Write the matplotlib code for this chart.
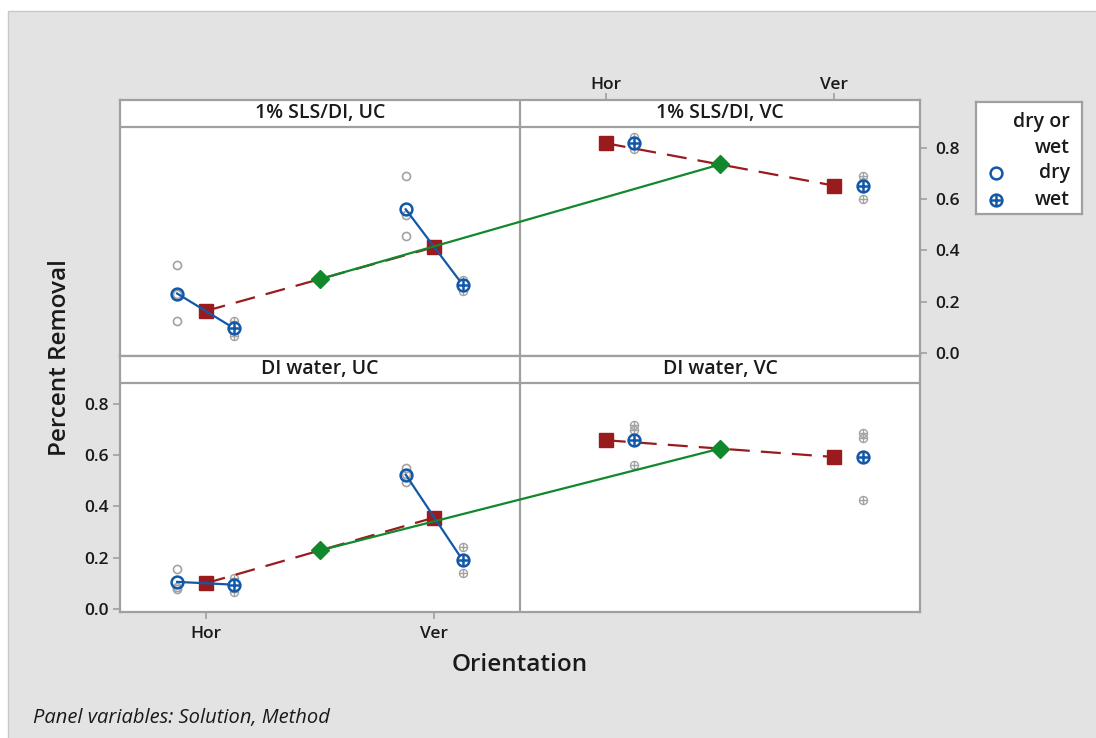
import matplotlib.pyplot as plt
import numpy as np
from matplotlib.patches import Rectangle

plt.rcParams['font.family'] = ['Open Sans', 'DejaVu Sans']

# percent removal per replicate: solution / method / orientation / dry or wet
sls_uc_hor_dry = [0.343, 0.228, 0.123]
sls_uc_hor_wet = [0.126, 0.093, 0.067]
sls_uc_ver_dry = [0.688, 0.536, 0.454]
sls_uc_ver_wet = [0.284, 0.268, 0.242]
sls_vc_hor_wet = [0.842, 0.812, 0.796]
sls_vc_ver_wet = [0.690, 0.665, 0.599]

di_uc_hor_dry = [0.155, 0.085, 0.076]
di_uc_hor_wet = [0.121, 0.095, 0.067]
di_uc_ver_dry = [0.550, 0.524, 0.495]
di_uc_ver_wet = [0.243, 0.185, 0.138]
di_vc_hor_wet = [0.715, 0.697, 0.559]
di_vc_ver_wet = [0.685, 0.665, 0.425]

orientations = ["Hor", "Ver"]
methods = ["UC", "VC"]
solutions = ["1% SLS/DI", "DI water"]

rows = [
    {"UC": {"Hor": {"dry": sls_uc_hor_dry, "wet": sls_uc_hor_wet},
            "Ver": {"dry": sls_uc_ver_dry, "wet": sls_uc_ver_wet}},
     "VC": {"Hor": {"wet": sls_vc_hor_wet},
            "Ver": {"wet": sls_vc_ver_wet}}},
    {"UC": {"Hor": {"dry": di_uc_hor_dry, "wet": di_uc_hor_wet},
            "Ver": {"dry": di_uc_ver_dry, "wet": di_uc_ver_wet}},
     "VC": {"Hor": {"wet": di_vc_hor_wet},
            "Ver": {"wet": di_vc_ver_wet}}},
]

BLUE = '#1158A8'
RED = '#9A1B1E'
GREEN = '#12882C'
GREY = '#A3A3A3'
FRAME = '#A0A0A0'
INK = '#1A1A1A'

W, H = 1096, 738
fig = plt.figure(figsize=(W / 100, H / 100), dpi=100)
fig.patch.set_facecolor('white')
fig.patches.append(Rectangle((8 / W, -0.01), 1.0, (H - 11) / H + 0.01,
                             transform=fig.transFigure, facecolor='#E3E3E3',
                             edgecolor='#C8C8C8', lw=1, zorder=-10))

panel_w = 1.75
x0 = 0.625
ymin, ytop = -0.012, 0.88
ystrip = 0.985
offs = {"dry": -0.125, "wet": 0.125}


def px_box(left, top, right, bottom):
    return [left / W, 1 - bottom / H, (right - left) / W, (bottom - top) / H]


def draw_pm(ax, x, y, ms, color, lw, z):
    ax.plot(x, y, 'o', ms=ms, mfc='none', mec=color, mew=lw, zorder=z)
    ax.plot(x, y, '+', ms=ms, mec=color, mew=lw, zorder=z)


row_boxes = [px_box(120, 100, 920, 356), px_box(120, 356, 920, 612)]
for r, (data, box) in enumerate(zip(rows, row_boxes)):
    ax = fig.add_axes(box)
    ax.set_xlim(x0, x0 + 2 * panel_w)
    ax.set_ylim(ymin, ystrip)
    ax.set_facecolor('white')
    for s in ax.spines.values():
        s.set_color(FRAME)
        s.set_linewidth(1.6)
    ax.axhline(ytop, color=FRAME, lw=1.6, zorder=1)
    ax.axvline(x0 + panel_w, color=FRAME, lw=1.6, zorder=1)

    diam_x, diam_y = [], []
    for m, meth in enumerate(methods):
        base = m * panel_w
        ax.text(base + 1.5, (ytop + ystrip) / 2, f"{solutions[r]}, {meth}",
                ha='center', va='center', fontsize=14, fontweight='semibold',
                color=INK)
        sq_x, sq_y = [], []
        for o, ori in enumerate(orientations):
            xc = base + 1 + o
            cell = data[meth][ori]
            mx, my = [], []
            for kind, vals in cell.items():
                xs = np.full(len(vals), xc + offs[kind])
                if kind == "dry":
                    ax.plot(xs, vals, 'o', ms=5.8, mfc='none', mec=GREY,
                            mew=1.2, zorder=2)
                else:
                    draw_pm(ax, xs, vals, 5.8, GREY, 1.0, 2)
                mx.append(xc + offs[kind])
                my.append(np.mean(vals))
            sq_x.append(xc)
            sq_y.append(np.mean(my))
            ax.plot(mx, my, '-', color=BLUE, lw=1.6, zorder=5)
            for kx, ky, kind in zip(mx, my, cell.keys()):
                if kind == "dry":
                    ax.plot(kx, ky, 'o', ms=8.5, mfc='none', mec=BLUE,
                            mew=1.8, zorder=6)
                else:
                    ax.plot(kx, ky, 'o', ms=8.5, mfc='white', mec=BLUE,
                            mew=1.8, zorder=6)
                    ax.plot(kx, ky, '+', ms=8.5, mec=BLUE, mew=1.8, zorder=6)
        ax.plot(sq_x, sq_y, '-', color=RED, lw=1.6, dashes=(9, 5), zorder=3)
        ax.plot(sq_x, sq_y, 's', ms=9.5, color=RED, mec=RED, zorder=4)
        diam_x.append(base + 1.5)
        diam_y.append(np.mean(sq_y))
    ax.plot(diam_x, diam_y, '-', color=GREEN, lw=1.6, zorder=7)
    ax.plot(diam_x, diam_y, 'D', ms=9.5, color=GREEN, mec=GREEN, zorder=8)

    yt = [0.0, 0.2, 0.4, 0.6, 0.8]
    ax.set_yticks(yt, [f"{v:.1f}" for v in yt])
    ax.tick_params(colors=FRAME, labelcolor=INK, labelsize=12.5, length=5,
                   width=1.2, direction='out', pad=3)
    if r == 0:
        ax.yaxis.tick_right()
        ax.xaxis.tick_top()
        ax.set_xticks([panel_w + 1, panel_w + 2], orientations)
        ax.tick_params(axis='y', pad=6)
        ax.tick_params(axis='x', pad=0)
    else:
        ax.set_xticks([1, 2], orientations)
        ax.tick_params(axis='x', pad=5)
    for lab in ax.get_yticklabels() + ax.get_xticklabels():
        lab.set_fontweight('semibold')

fig.text(60 / W, 1 - 358 / H, "Percent Removal", rotation=90, ha='center',
         va='center', fontsize=17.5, fontweight='semibold', color=INK)
fig.text(520 / W, 1 - 665 / H, "Orientation", ha='center', va='center',
         fontsize=17.5, fontweight='semibold', color=INK)
fig.text(33 / W, 1 - 718 / H, "Panel variables: Solution, Method",
         ha='left', va='center', fontsize=14.5, style='italic', color=INK)

# legend box
lg = fig.add_axes(px_box(976, 102, 1082, 214))
lg.set_xlim(0, 106)
lg.set_ylim(112, 0)
lg.set_xticks([])
lg.set_yticks([])
lg.set_facecolor('white')
for s in lg.spines.values():
    s.set_color(FRAME)
    s.set_linewidth(1.6)
for txt, yy in [("dry or", 20), ("wet", 46), ("dry", 71), ("wet", 98)]:
    lg.text(94, yy, txt, ha='right', va='center', fontsize=14,
            fontweight='semibold', color=INK)
lg.plot(20, 71, 'o', ms=8.5, mfc='none', mec=BLUE, mew=1.8)
lg.plot(20, 98, 'o', ms=8.5, mfc='none', mec=BLUE, mew=1.8)
lg.plot(20, 98, '+', ms=8.5, mec=BLUE, mew=1.8)

fig.savefig('out.png', dpi=100)
